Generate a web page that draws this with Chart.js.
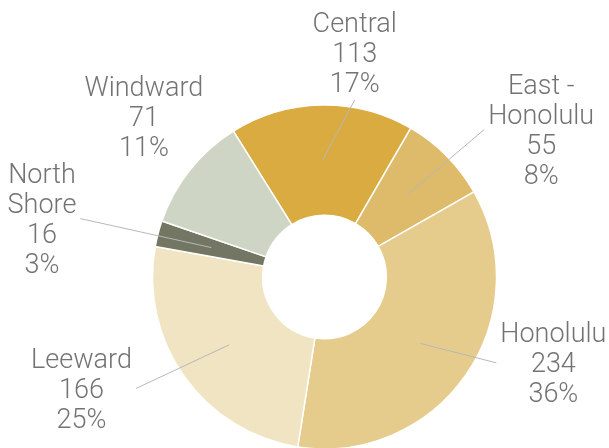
<!DOCTYPE html>
<html>
<head>
<meta charset="utf-8">
<script src="https://cdn.jsdelivr.net/npm/chart.js@4/dist/chart.umd.min.js"></script>
<style>
  html, body { margin: 0; padding: 0; background: #fff; overflow: hidden; }
  #wrap { width: 609px; height: 448px; position: relative; }
</style>
</head>
<body>
<div id="wrap"><canvas id="chart" width="609" height="448"></canvas></div>
<script>
// data
const categories = [["Central"], ["East -", "Honolulu"], ["Honolulu"], ["Leeward"], ["North", "Shore"], ["Windward"]];
const values = [113, 55, 234, 166, 16, 71];
const percents = ["17%", "8%", "36%", "25%", "3%", "11%"];

const colors = ["#d9ab40", "#debb6a", "#e6cc8c", "#f1e4c2", "#737662", "#cfd5c4"];

// label placement tweaks (offset from the default radial spot), and which slices get a leader line
const labelNudges = [[34, 7.5], [52, 16], [38, -46], [-54, -23], [-58, 0], [1, -16]];
const leaders = [true, true, true, true, true, false];

const outsideLabels = {
  id: "outsideLabels",
  afterDatasetsDraw(chart, args, opts) {
    const ctx = chart.ctx;
    const meta = chart.getDatasetMeta(0);
    ctx.save();
    ctx.font = `${opts.fontWeight} ${opts.fontSize}px ${opts.fontFamily}`;
    meta.data.forEach((arc, i) => {
      const { x, y, startAngle, endAngle, innerRadius, outerRadius } =
        arc.getProps(["x", "y", "startAngle", "endAngle", "innerRadius", "outerRadius"], true);
      const mid = (startAngle + endAngle) / 2;
      const ringR = (innerRadius + outerRadius) / 2;
      const sx = x + Math.cos(mid) * ringR;
      const sy = y + Math.sin(mid) * ringR;

      const lr = outerRadius + opts.distance;
      const cx = x + Math.cos(mid) * lr + opts.nudges[i][0];
      const cy = y + Math.sin(mid) * lr + opts.nudges[i][1];

      const lines = [...categories[i], String(values[i]), percents[i]];
      const lh = opts.lineHeight;
      const cap = opts.fontSize * 0.71;
      const blockH = cap + lh * (lines.length - 1);
      const top = cy - blockH / 2;
      const w = Math.max(...lines.map(l => ctx.measureText(l).width));

      if (opts.leaders[i]) {
        let ex, ey;
        if (Math.abs(cy - sy) > Math.abs(cx - sx)) {
          ex = cx;
          ey = cy > sy ? top - opts.gap : top + blockH + opts.gapBelow;
        } else {
          ey = cy;
          ex = cx > sx ? cx - w / 2 - opts.gap : cx + w / 2 + opts.gap;
        }
        ctx.beginPath();
        ctx.moveTo(sx, sy);
        ctx.lineTo(ex, ey);
        ctx.strokeStyle = opts.lineColor;
        ctx.lineWidth = 1;
        ctx.stroke();
      }

      ctx.fillStyle = opts.color;
      ctx.textAlign = "center";
      ctx.textBaseline = "alphabetic";
      lines.forEach((l, k) => ctx.fillText(l, cx, top + cap + k * lh));
    });
    ctx.restore();
  }
};

new Chart(document.getElementById("chart").getContext("2d"), {
  type: "doughnut",
  data: {
    labels: categories.map(c => c.join(" ")),
    datasets: [
      {
        data: values,
        backgroundColor: colors,
        borderColor: "#ffffff",
        borderWidth: 1.5
      }
    ]
  },
  options: {
    responsive: false,
    animation: false,
    rotation: -32,
    radius: 172,
    cutout: 61,
    layout: { padding: { top: 106, bottom: 0, left: 154, right: 114 } },
    plugins: {
      legend: { display: false },
      tooltip: { enabled: false },
      outsideLabels: {
        fontFamily: "Roboto",
        fontWeight: 300,
        fontSize: 27,
        lineHeight: 30,
        color: "#737373",
        lineColor: "#b8b8b8",
        distance: 60,
        nudges: labelNudges,
        leaders: leaders,
        gap: 4,
        gapBelow: 8
      }
    }
  },
  plugins: [outsideLabels]
});
</script>
</body>
</html>
